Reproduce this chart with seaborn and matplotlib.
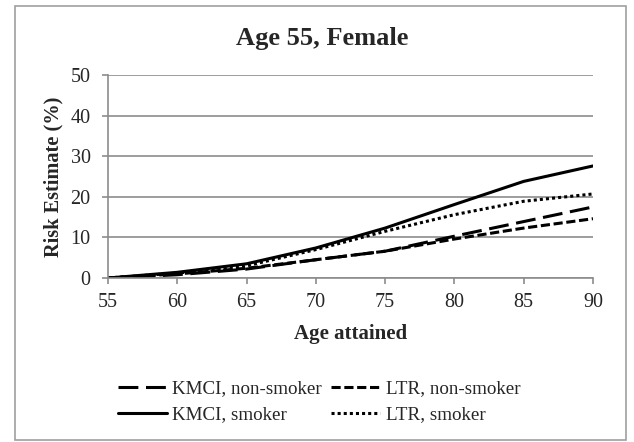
import numpy as np
import pandas as pd
import matplotlib
matplotlib.use("Agg")
import matplotlib.pyplot as plt
import seaborn as sns
from matplotlib.patches import Rectangle

ages = [55, 60, 65, 70, 75, 80, 85, 90]
kmci_non_smoker = [0.0, 0.8, 2.2, 4.5, 6.6, 10.3, 13.9, 17.5]
ltr_non_smoker = [0.0, 1.0, 2.4, 4.5, 6.6, 9.6, 12.3, 14.6]
kmci_smoker = [0.0, 1.4, 3.5, 7.4, 12.3, 18.1, 23.8, 27.6]
ltr_smoker = [0.0, 1.2, 3.0, 7.0, 11.5, 15.6, 18.9, 20.7]

series_names = ["KMCI, non-smoker", "LTR, non-smoker", "KMCI, smoker", "LTR, smoker"]
series_values = [kmci_non_smoker, ltr_non_smoker, kmci_smoker, ltr_smoker]

df = pd.DataFrame({
    "Age attained": np.tile(ages, len(series_names)),
    "Risk": np.concatenate(series_values),
    "Series": np.repeat(series_names, len(ages)),
})

sns.set_theme(style="white")
plt.rcParams["font.family"] = ["Liberation Serif", "DejaVu Serif"]

W, H = 634, 442
fig = plt.figure(figsize=(W / 100, H / 100), dpi=100)
ax = fig.add_axes([108 / W, 1 - 278 / H, (593 - 108) / W, (278 - 75) / H])

dash_styles = {
    "KMCI, non-smoker": (6.5, 2.5),
    "LTR, non-smoker": (3, 1.2),
    "KMCI, smoker": "",
    "LTR, smoker": (1, 1),
}
sns.lineplot(data=df, x="Age attained", y="Risk", hue="Series", style="Series",
             palette=["black"] * 4, dashes=dash_styles, linewidth=2.2,
             hue_order=series_names, style_order=series_names, ax=ax, legend=True)

ax.set_xlim(55, 90)
ax.set_ylim(0, 50)
ax.set_xticks(ages)
ax.set_yticks(range(0, 51, 10))
ax.yaxis.grid(True, color="#8c8c8c", linewidth=1.2)
ax.xaxis.grid(False)
for side in ["top", "right"]:
    ax.spines[side].set_visible(False)
for side in ["left", "bottom"]:
    ax.spines[side].set_color("#8c8c8c")
    ax.spines[side].set_linewidth(1.2)
ax.tick_params(axis="both", which="both", direction="out", length=4.5, width=1.2,
               color="#8c8c8c", labelsize=14.5, bottom=True, left=True)
ax.tick_params(axis="y", pad=8)
ax.tick_params(axis="x", pad=6)
ax.set_xlabel("Age attained", fontsize=15, fontweight="bold", labelpad=9)
ax.set_ylabel("Risk Estimate (%)", fontsize=14.7, fontweight="bold", labelpad=5)

fig.text(322 / W, 1 - 39 / H, "Age 55, Female", ha="center", va="center",
         fontsize=19, fontweight="bold")

# legend in two rows: KMCI entries in the first column, LTR entries in the second
handles, labels = ax.get_legend_handles_labels()
lookup = dict(zip(labels, handles))
legend_order = ["KMCI, non-smoker", "KMCI, smoker", "LTR, non-smoker", "LTR, smoker"]
fig.legend([lookup[k] for k in legend_order], legend_order,
           loc="upper left", bbox_to_anchor=(118 / W, 1 - 380 / H),
           ncol=2, frameon=False, fontsize=13.7, handlelength=2.55,
           handletextpad=0.3, columnspacing=0.5, labelspacing=0.45,
           borderpad=0, borderaxespad=0)
ax.get_legend().remove()

fig.add_artist(Rectangle((15 / W, 1 - 440 / H), (626 - 15) / W, (440 - 6) / H,
                         transform=fig.transFigure, fill=False,
                         edgecolor="#a0a0a0", linewidth=1.2))

fig.savefig("out.png", dpi=100, facecolor="white")
